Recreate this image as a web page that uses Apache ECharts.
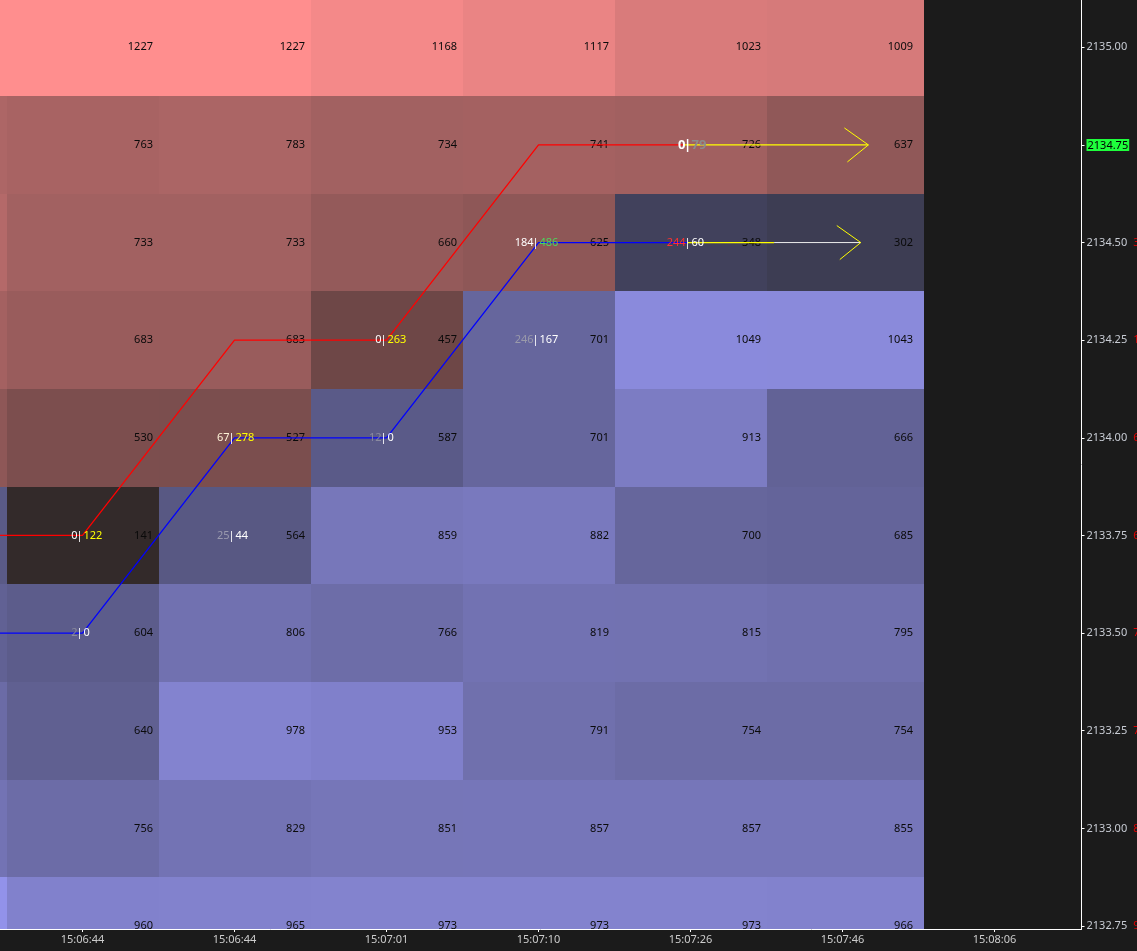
<!DOCTYPE html>
<html>
<head>
<meta charset="utf-8">
<script src="https://cdn.jsdelivr.net/npm/echarts@6/dist/echarts.min.js"></script>
<style>
html, body { margin: 0; padding: 0; background: #1b1b1b; }
#chart { width: 1137px; height: 951px; }
</style>
</head>
<body>
<div id="chart"></div>
<script>
// price ladder, top to bottom
var prices = [2135.00, 2134.75, 2134.50, 2134.25, 2134.00, 2133.75, 2133.50, 2133.25, 2133.00, 2132.75];
var times = ['15:06:44', '15:06:44', '15:07:01', '15:07:10', '15:07:26', '15:07:46', '15:08:06'];

// resting volume per column, volPrev is the column cut off at the left edge
var volPrev = [1227, 790, 827, 742, 625, 580, 656, 752, 829, 1126];
var vol0 = [1227, 763, 733, 683, 530, 141, 604, 640, 756, 960];
var vol1 = [1227, 783, 733, 683, 527, 564, 806, 978, 829, 965];
var vol2 = [1168, 734, 660, 457, 587, 859, 766, 953, 851, 973];
var vol3 = [1117, 741, 625, 701, 701, 882, 819, 791, 857, 973];
var vol4 = [1023, 726, 348, 1049, 913, 700, 815, 754, 857, 973];
var vol5 = [1009, 637, 302, 1043, 666, 685, 795, 754, 855, 966];
var columns = [volPrev, vol0, vol1, vol2, vol3, vol4, vol5];

// lowest ask level in each column (prev, 0..5)
var bestAsk = [2134.00, 2133.75, 2134.00, 2134.25, 2134.50, 2134.75, 2134.75];

// step lines, columns prev..3
var askLine = [2133.75, 2133.75, 2134.25, 2134.25, 2134.75];
var bidLine = [2133.50, 2133.50, 2134.00, 2134.00, 2134.50];

// projection: start col, end of yellow part, arrow tip col, price
var projections = [
  [3.95, 5.17, 5.17, 2134.75],
  [3.98, 4.55, 5.12, 2134.50]
];

// traded volume marks: col, price, left, right
var tradeMarks = [
  [0, 2133.75, '0', '122'],
  [0, 2133.50, '2', '0'],
  [1, 2134.00, '67', '278'],
  [1, 2133.75, '25', '44'],
  [2, 2134.25, '0', '263'],
  [2, 2134.00, '12', '0'],
  [3, 2134.50, '184', '486'],
  [3, 2134.25, '246', '167'],
  [4, 2134.75, '0', '79'],
  [4, 2134.50, '244', '60']
];
var tradeColors = [
  ['#ffffff', '#ffff00'], ['#8a8a9c', '#ffffff'], ['#fff3d8', '#ffff00'], ['#9a9aae', '#ffffff'],
  ['#ffffff', '#ffff00'], ['#8a8aa0', '#ffffff'], ['#ffffff', '#4cd85c'], ['#9a9aaa', '#ffffff'],
  ['#ffffff', '#8c8c8c'], ['#ff3030', '#ffffff']
];

var FONT = '"Noto Sans", "Liberation Sans", sans-serif';

var askData = [], bidData = [];
columns.forEach(function (vols, c) {
  vols.forEach(function (v, r) {
    var item = [c - 1, prices[r], v];
    if (prices[r] >= bestAsk[c]) askData.push(item); else bidData.push(item);
  });
});

var askPts = askLine.map(function (p, i) { return [i - 1, p]; });
askPts.push([projections[0][0], askLine[askLine.length - 1]]);
var bidPts = bidLine.map(function (p, i) { return [i - 1, p]; });
bidPts.push([projections[1][0], bidLine[bidLine.length - 1]]);

function renderCell(params, api) {
  var col = api.value(0), price = api.value(1);
  var w = col === 5 ? 1.033 : 1;
  var tl = api.coord([col - 0.5, price + 0.125]);
  var br = api.coord([col - 0.5 + w, price - 0.125]);
  var x0 = Math.round(tl[0]), x1 = Math.round(br[0]);
  var y0 = Math.round(tl[1]), y1 = Math.round(br[1]);
  var children = [{
    type: 'rect',
    shape: { x: x0, y: y0, width: x1 - x0, height: y1 - y0 },
    style: { fill: api.visual('color') }
  }];
  if (col >= 0) {
    children.push({
      type: 'text',
      x: x1 - 6 - (col === 5 ? 5 : 0),
      y: (tl[1] + br[1]) / 2,
      style: {
        text: String(api.value(2)), fill: '#0a0a0a', fontSize: 11, fontFamily: FONT,
        align: 'right', verticalAlign: 'middle'
      }
    });
  }
  return { type: 'group', children: children };
}

function renderProjection(params, api) {
  var a = api.coord([api.value(0), api.value(3)]);
  var b = api.coord([api.value(1), api.value(3)]);
  var t = api.coord([api.value(2), api.value(3)]);
  var children = [
    { type: 'line', shape: { x1: a[0], y1: a[1], x2: b[0], y2: b[1] }, style: { stroke: '#ffff00', lineWidth: 1.3 } }
  ];
  if (t[0] - b[0] > 1) {
    children.push({ type: 'line', shape: { x1: b[0], y1: b[1], x2: t[0], y2: t[1] }, style: { stroke: '#ececec', lineWidth: 1 } });
  }
  children.push({
    type: 'polyline',
    shape: { points: [[t[0] - 24, t[1] - 17], [t[0], t[1]], [t[0] - 21, t[1] + 17]] },
    style: { stroke: '#ffff00', fill: null, lineWidth: 1 }
  });
  return { type: 'group', children: children };
}

function renderTrade(params, api) {
  var c = api.coord([api.value(0), api.value(1)]);
  var idx = params.dataIndex;
  var m = tradeMarks[idx];
  var cols = tradeColors[idx];
  var big = idx === 8;
  var fs = big ? 13 : 11, fw = big ? 'bold' : 'normal';
  return {
    type: 'group',
    children: [
      { type: 'text', x: c[0] - 5, y: c[1], style: { text: m[2], fill: cols[0], fontSize: fs, fontWeight: fw, fontFamily: FONT, align: 'right', verticalAlign: 'middle' } },
      { type: 'text', x: c[0] - 3, y: c[1], style: { text: '|', fill: '#ffffff', fontSize: fs, fontWeight: fw, fontFamily: FONT, align: 'center', verticalAlign: 'middle' } },
      { type: 'text', x: c[0] + 1, y: c[1], style: { text: m[3], fill: cols[1], fontSize: fs, fontWeight: fw, fontFamily: FONT, align: 'left', verticalAlign: 'middle' } }
    ]
  };
}

var chart = echarts.init(document.getElementById('chart'), null, { renderer: 'canvas' });

var option = {
  backgroundColor: '#1b1b1b',
  animation: false,
  grid: { left: 0, top: 0, right: 55.5, bottom: 22, containLabel: false, outerBoundsMode: 'none' },
  xAxis: {
    type: 'value',
    min: -0.5428,
    max: 6.572,
    axisLine: { onZero: false, lineStyle: { color: '#ffffff', width: 1 } },
    axisTick: { customValues: [0, 1, 2, 3, 4, 5, 6], length: 3, lineStyle: { color: '#ffffff' } },
    axisLabel: {
      customValues: [0, 1, 2, 3, 4, 5, 6],
      formatter: function (v) { return times[Math.round(v)]; },
      color: '#cccccc', fontSize: 11, fontFamily: FONT, margin: 5
    },
    splitLine: { show: false }
  },
  yAxis: {
    type: 'value',
    position: 'right',
    min: 2132.7423,
    max: 2135.1211,
    axisLine: { show: true, onZero: false, lineStyle: { color: '#ffffff', width: 1 } },
    axisTick: { show: true, customValues: prices, length: 3, lineStyle: { color: '#ffffff' } },
    axisLabel: {
      customValues: prices,
      margin: 5,
      formatter: function (v) {
        var r = Math.round((2135 - v) / 0.25);
        var s = v.toFixed(2);
        if (r === 1) return '{hl|' + s + '}';
        if (prices[r] < bestAsk[bestAsk.length - 1]) return '{v|' + s + '}{r|' + vol5[r] + '}';
        return '{v|' + s + '}';
      },
      rich: {
        v: { color: '#c8ccd4', fontSize: 11, fontFamily: FONT },
        hl: { color: '#000000', backgroundColor: '#1eff3c', fontSize: 11, fontFamily: FONT, padding: [1, 1, 0, 1] },
        r: { color: '#e00000', fontSize: 11, fontFamily: FONT, padding: [0, 0, 0, 6] }
      }
    },
    splitLine: { show: false }
  },
  visualMap: [
    { type: 'continuous', show: false, seriesIndex: 0, dimension: 2, min: 0, max: 1227, inRange: { color: ['#181d1d', '#ff8e8e'] } },
    { type: 'continuous', show: false, seriesIndex: 1, dimension: 2, min: 0, max: 1227, inRange: { color: ['#1d1d1c', '#9d9dfd'] } }
  ],
  series: [
    { name: 'ask', type: 'custom', clip: true, renderItem: renderCell, data: askData, z: 1 },
    { name: 'bid', type: 'custom', clip: true, renderItem: renderCell, data: bidData, z: 1 },
    { name: 'askLine', type: 'line', data: askPts, symbol: 'none', lineStyle: { color: '#ff0000', width: 1.3 }, z: 3 },
    { name: 'bidLine', type: 'line', data: bidPts, symbol: 'none', lineStyle: { color: '#0000ff', width: 1.3 }, z: 3 },
    { name: 'projection', type: 'custom', clip: true, renderItem: renderProjection, data: projections, z: 4 },
    { name: 'trades', type: 'custom', clip: true, renderItem: renderTrade, data: tradeMarks.map(function (m) { return [m[0], m[1]]; }), z: 5 }
  ]
};

chart.setOption(option);
</script>
</body>
</html>
